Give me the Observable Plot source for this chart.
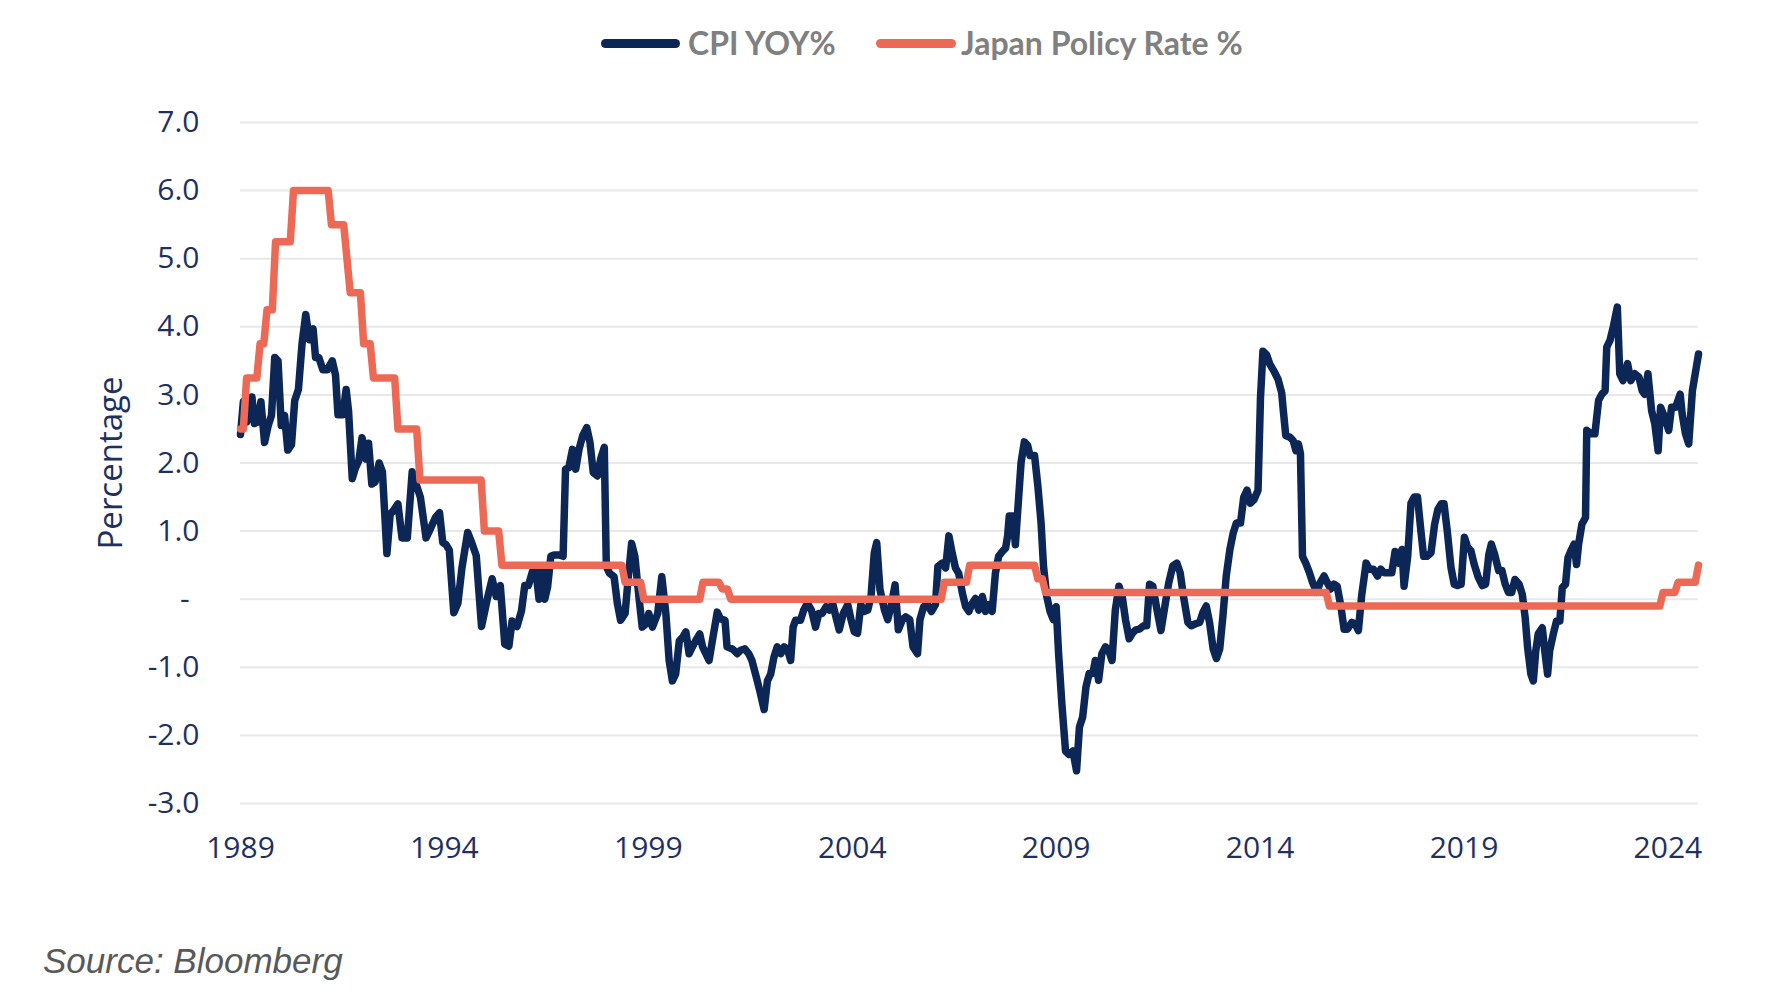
<!DOCTYPE html>
<html><head><meta charset="utf-8">
<script src="https://cdn.jsdelivr.net/npm/d3@7"></script>
<script src="https://cdn.jsdelivr.net/npm/@observablehq/plot@0.6"></script>
<style>
html,body{margin:0;padding:0;background:#fff;overflow:hidden;}
#page{position:relative;width:1778px;height:1004px;overflow:hidden;background:#fff;}
.sw{position:absolute;height:9px;border-radius:4.5px;}
.lt{position:absolute;font-family:Lato,"Open Sans",sans-serif;font-weight:700;font-size:32px;color:#808080;line-height:40px;white-space:nowrap;}
#chart{position:absolute;left:0;top:88px;}
#source{position:absolute;left:43px;top:941px;font-family:"Liberation Sans",Arial,sans-serif;font-style:italic;font-size:35px;color:#595959;line-height:40px;white-space:nowrap;}
</style></head><body>
<div id="page">
  <div class="sw" style="left:601px;top:39px;width:79px;background:#0c2656"></div>
  <div class="lt" style="left:688px;top:23px">CPI YOY%</div>
  <div class="sw" style="left:876px;top:39px;width:80px;background:#ec6a55"></div>
  <div class="lt" style="left:961px;top:23px">Japan Policy Rate %</div>
  <div id="chart"></div>
  <div id="source">Source: Bloomberg</div>
</div>
<script>
const seriesNames = ["CPI YOY%", "Japan Policy Rate %"];
const xTicks = [1989, 1994, 1999, 2004, 2009, 2014, 2019, 2024];
const yTicks = [-3, -2, -1, 0, 1, 2, 3, 4, 5, 6, 7];
const yTickLabels = ["-3.0", "-2.0", "-1.0", "-\u2009\u2009", "1.0", "2.0", "3.0", "4.0", "5.0", "6.0", "7.0"];

const cpiYears = [
1989.00,1989.07,1989.15,1989.28,1989.34,1989.42,1989.50,1989.59,1989.68,1989.76,1989.84,1989.92,
1990.00,1990.08,1990.16,1990.25,1990.33,1990.42,1990.51,1990.60,1990.69,1990.78,1990.84,1990.92,
1991.02,1991.13,1991.25,1991.33,1991.39,1991.51,1991.59,1991.65,1991.74,1991.82,1991.90,1991.98,
1992.08,1992.14,1992.22,1992.30,1992.40,1992.48,1992.59,1992.67,1992.75,1992.86,1992.96,
1993.09,1993.21,1993.29,1993.41,1993.55,1993.63,1993.78,1993.88,1993.96,
1994.04,1994.12,1994.23,1994.33,1994.43,1994.57,1994.67,1994.78,1994.91,
1995.05,1995.17,1995.27,1995.37,1995.48,1995.58,1995.66,1995.78,1995.89,1995.97,
1996.06,1996.16,1996.24,1996.32,1996.40,1996.46,1996.53,1996.61,1996.69,1996.81,1996.91,1996.97,
1997.05,1997.14,1997.22,1997.30,1997.39,1997.49,1997.57,1997.65,1997.75,1997.84,1997.92,1997.97,
1998.05,1998.16,1998.24,1998.32,1998.43,1998.51,1998.59,1998.67,1998.77,1998.85,1998.95,
1999.01,1999.10,1999.23,1999.33,1999.43,1999.51,1999.59,1999.67,1999.76,1999.84,1999.92,
2000.00,2000.08,2000.16,2000.26,2000.33,2000.41,2000.49,2000.57,2000.69,2000.77,2000.88,2000.93,
2001.06,2001.18,2001.26,2001.37,2001.46,2001.54,2001.65,2001.73,2001.84,2001.92,
2002.00,2002.08,2002.16,2002.25,2002.33,2002.41,2002.49,2002.55,2002.61,2002.73,2002.81,2002.90,
2003.00,2003.10,2003.18,2003.26,2003.36,2003.44,2003.52,2003.60,2003.68,2003.78,2003.89,2003.97,
2004.05,2004.13,2004.21,2004.29,2004.38,2004.46,2004.54,2004.60,2004.68,2004.79,2004.87,2004.95,
2005.05,2005.13,2005.23,2005.31,2005.41,2005.49,2005.60,2005.66,2005.75,2005.85,2005.94,
2006.04,2006.10,2006.21,2006.29,2006.37,2006.45,2006.53,2006.61,2006.70,2006.78,2006.86,2006.94,
2007.02,2007.10,2007.19,2007.27,2007.35,2007.43,2007.51,2007.59,2007.68,2007.76,2007.81,2007.85,2007.94,
2008.00,2008.06,2008.14,2008.22,2008.30,2008.36,2008.47,2008.55,2008.63,2008.69,2008.77,2008.85,2008.93,
2009.00,2009.06,2009.14,2009.23,2009.31,2009.41,2009.50,2009.57,2009.65,2009.73,2009.81,2009.90,2009.96,
2010.04,2010.12,2010.21,2010.29,2010.37,2010.45,2010.54,2010.62,2010.70,2010.79,2010.87,2010.95,
2011.04,2011.14,2011.22,2011.29,2011.37,2011.47,2011.57,2011.68,2011.76,2011.86,2011.96,
2012.04,2012.12,2012.23,2012.31,2012.42,2012.52,2012.60,2012.68,2012.76,2012.85,2012.93,
2013.01,2013.09,2013.17,2013.26,2013.34,2013.42,2013.52,2013.60,2013.68,2013.76,2013.85,2013.95,
2014.01,2014.07,2014.16,2014.24,2014.34,2014.44,2014.53,2014.57,2014.63,2014.73,2014.81,2014.88,2014.94,2014.99,
2015.04,2015.12,2015.21,2015.29,2015.39,2015.47,2015.57,2015.65,2015.73,2015.81,2015.89,2015.98,
2016.06,2016.14,2016.25,2016.33,2016.41,2016.49,2016.60,2016.68,2016.78,2016.88,2016.96,
2017.04,2017.12,2017.23,2017.31,2017.39,2017.48,2017.53,2017.62,2017.70,2017.78,2017.86,2017.94,
2018.01,2018.09,2018.19,2018.28,2018.36,2018.44,2018.51,2018.59,2018.68,2018.76,2018.84,2018.93,
2019.01,2019.09,2019.17,2019.25,2019.35,2019.45,2019.53,2019.61,2019.67,2019.75,2019.85,2019.93,
2020.01,2020.09,2020.17,2020.25,2020.35,2020.43,2020.50,2020.56,2020.64,2020.70,2020.76,2020.82,2020.92,2020.98,
2021.05,2021.10,2021.19,2021.27,2021.35,2021.41,2021.49,2021.55,2021.62,2021.70,2021.76,2021.81,2021.89,2021.98,
2022.01,2022.11,2022.21,2022.30,2022.38,2022.46,2022.50,2022.58,2022.66,2022.76,2022.82,2022.90,
2023.01,2023.09,2023.19,2023.29,2023.37,2023.43,2023.51,2023.60,2023.68,2023.76,2023.82,2023.92,
2024.02,2024.09,2024.19,2024.30,2024.35,2024.43,2024.51,2024.60,2024.75
];
const cpiValues = [
2.42,2.90,2.60,2.97,2.58,2.60,2.90,2.30,2.55,2.70,3.55,3.50,
2.55,2.70,2.19,2.27,2.92,3.08,3.76,4.18,3.81,3.97,3.55,3.55,
3.37,3.37,3.50,3.29,2.71,2.71,3.08,2.76,1.77,1.93,2.03,2.37,
2.06,2.29,1.69,1.72,2.00,1.87,0.67,1.25,1.30,1.40,0.90,
0.90,1.87,1.72,1.50,0.90,1.00,1.20,1.27,0.83,
0.80,0.72,-0.20,-0.06,0.46,0.98,0.83,0.64,-0.40,
0.00,0.30,0.04,0.20,-0.66,-0.69,-0.32,-0.40,-0.17,0.20,
0.20,0.41,0.43,0.00,0.43,0.00,0.18,0.63,0.65,0.65,0.63,1.91,
1.93,2.20,1.91,2.20,2.40,2.52,2.30,1.86,1.81,2.08,2.23,0.48,
0.38,0.33,-0.06,-0.31,-0.21,0.33,0.82,0.63,0.03,-0.41,-0.36,
-0.21,-0.41,-0.21,0.33,-0.21,-0.90,-1.20,-1.10,-0.61,-0.56,-0.48,
-0.80,-0.70,-0.61,-0.51,-0.70,-0.80,-0.90,-0.61,-0.19,-0.29,-0.31,-0.70,
-0.73,-0.80,-0.75,-0.73,-0.80,-0.90,-1.15,-1.34,-1.62,-1.20,
-1.10,-0.85,-0.70,-0.80,-0.70,-0.73,-0.90,-0.41,-0.31,-0.31,-0.16,-0.06,
-0.16,-0.41,-0.21,-0.21,-0.11,-0.16,-0.06,-0.26,-0.45,-0.21,-0.08,-0.30,
-0.48,-0.50,-0.08,-0.18,-0.16,0.04,0.68,0.83,0.14,-0.16,-0.30,-0.11,
0.21,-0.45,-0.30,-0.26,-0.30,-0.70,-0.80,-0.30,-0.11,-0.08,-0.18,
-0.08,0.48,0.53,0.46,0.93,0.68,0.46,0.38,0.09,-0.11,-0.18,-0.06,
0.01,-0.16,0.04,-0.18,-0.08,-0.18,0.38,0.63,0.70,0.75,0.93,1.22,1.22,
0.80,1.32,2.01,2.31,2.26,2.11,2.11,1.67,1.12,0.48,0.04,-0.18,-0.30,
-0.11,-0.80,-1.54,-2.23,-2.28,-2.23,-2.52,-1.88,-1.73,-1.29,-1.09,-1.09,-0.90,
-1.19,-0.80,-0.70,-0.75,-0.90,-0.16,0.19,0.04,-0.30,-0.58,-0.50,-0.45,
-0.44,-0.39,-0.39,0.22,0.19,-0.15,-0.46,-0.05,0.24,0.49,0.53,
0.39,0.05,-0.34,-0.39,-0.36,-0.34,-0.19,-0.10,-0.34,-0.73,-0.87,
-0.73,-0.24,0.34,0.73,0.97,1.12,1.12,1.50,1.60,1.41,1.46,1.60,
2.96,3.64,3.59,3.45,3.35,3.23,3.03,2.77,2.40,2.38,2.33,2.18,2.28,2.14,
0.63,0.53,0.39,0.24,0.10,0.24,0.34,0.24,0.15,0.22,0.19,-0.10,
-0.44,-0.44,-0.34,-0.36,-0.46,0.05,0.53,0.44,0.44,0.34,0.44,
0.39,0.39,0.39,0.70,0.53,0.73,0.19,0.63,1.41,1.50,1.50,1.02,
0.63,0.63,0.68,1.10,1.32,1.40,1.40,1.00,0.47,0.22,0.20,0.22,
0.91,0.76,0.71,0.51,0.32,0.20,0.22,0.66,0.81,0.66,0.42,0.42,
0.22,0.10,0.10,0.29,0.22,0.07,-0.27,-0.71,-1.10,-1.20,-0.76,-0.51,-0.42,-0.76,
-1.10,-0.76,-0.51,-0.32,-0.32,0.17,0.22,0.61,0.71,0.81,0.51,0.81,1.10,1.20,
2.48,2.43,2.43,2.92,3.01,3.06,3.70,3.80,4.00,4.29,3.31,3.21,
3.46,3.21,3.31,3.26,3.06,3.01,3.31,2.77,2.57,2.18,2.82,2.67,
2.48,2.82,2.82,3.01,2.72,2.43,2.28,3.06,3.60
];

const rateChangeYears = [1989.00,1989.15,1989.48,1989.65,1989.86,1990.30,1991.23,1991.61,1991.69,1992.02,1992.26,1992.86,1993.40,1994.98,1995.41,
  1998.43,1998.89,2000.34,2000.81,2001.02,2006.26,2006.88,2008.55,2008.74,2015.70,2023.88,2024.25,2024.75];
const rateLevels = [2.5,3.25,3.75,4.25,5.25,6.0,5.5,5.0,4.5,3.75,3.25,2.5,1.75,1.0,0.5,
  0.25,0.0,0.25,0.15,0.0,0.25,0.5,0.3,0.1,-0.1,0.1,0.25,0.5];
const rateEndYear = 2024.75;
const rampYears = 0.08;

const cpi = cpiYears.map((yr, i) => ({year: yr, value: cpiValues[i], series: seriesNames[0]}));
const rate = [];
rateChangeYears.forEach((t, i) => {
  if (i === 0) { rate.push({year: t, value: rateLevels[0]}); }
  else {
    rate.push({year: t - rampYears, value: rateLevels[i - 1]});
    rate.push({year: t, value: rateLevels[i]});
  }
});
if (rate[rate.length - 1].year < rateEndYear) rate.push({year: rateEndYear, value: rateLevels[rateLevels.length - 1]});

const chart = Plot.plot({
  width: 1778, height: 800,
  marginLeft: 240, marginRight: 80, marginTop: 34, marginBottom: 85,
  style: {fontFamily: "'Open Sans', sans-serif", fontSize: "30px", color: "#1f3060", background: "transparent", overflow: "visible"},
  x: {domain: [1989, rateEndYear]},
  y: {domain: [-3, 7]},
  marks: [
    Plot.ruleY(yTicks, {stroke: "#e8e8e8", strokeWidth: 2}),
    Plot.axisY(yTicks, {tickSize: 0, tickPadding: 41, tickFormat: d => yTickLabels[yTicks.indexOf(d)], label: null, fontSize: 30}),
    Plot.axisX(xTicks, {tickSize: 0, tickPadding: 33, tickFormat: d => String(d), label: null, fontSize: 30}),
    Plot.line(cpi, {x: "year", y: "value", stroke: "#0c2656", strokeWidth: 7.5}),
    Plot.line(rate, {x: "year", y: "value", stroke: "#ec6a55", strokeWidth: 7.5}),
    Plot.text(["Percentage"], {frameAnchor: "left", text: d => d, textAnchor: "middle", dx: -129, rotate: -90, fontSize: 33, fill: "#1f3060"})
  ]
});
document.getElementById("chart").appendChild(chart);
</script>
</body></html>
